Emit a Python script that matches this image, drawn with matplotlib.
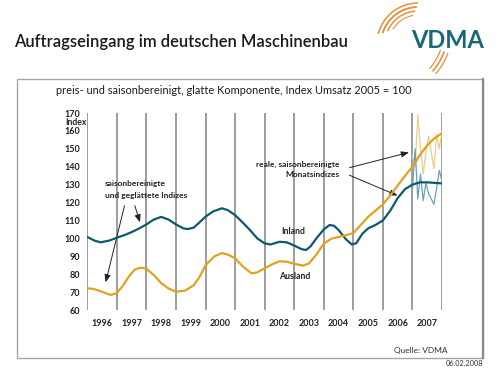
import matplotlib
matplotlib.use("Agg")
import matplotlib.pyplot as plt
from matplotlib.patches import Arc, Rectangle
import numpy as np

plt.rcParams['font.family'] = ['Lato', 'DejaVu Sans']

# ---- data ----
inland_x = [1996.0, 1996.25, 1996.45, 1996.75, 1997.0, 1997.25, 1997.5, 1997.75, 1998.0, 1998.25,
            1998.5, 1998.75, 1999.0, 1999.25, 1999.4, 1999.6, 1999.8, 2000.0, 2000.25, 2000.55,
            2000.75, 2001.0, 2001.25, 2001.5, 2001.75, 2002.0, 2002.2, 2002.5, 2002.75, 2003.0,
            2003.25, 2003.4, 2003.55, 2003.75, 2004.0, 2004.2, 2004.35, 2004.5, 2004.75, 2004.95,
            2005.1, 2005.3, 2005.5, 2005.75, 2006.0, 2006.25, 2006.5, 2006.75, 2007.0, 2007.25,
            2007.5, 2007.75, 2008.0]
inland_v = [100.8, 98.7, 97.8, 98.8, 100.4, 101.8, 103.5, 105.5, 107.8, 110.5,
            112.0, 110.5, 107.8, 105.6, 105.2, 106.0, 109.0, 112.1, 115.0, 116.8,
            115.8, 113.0, 109.0, 104.7, 100.0, 97.2, 96.6, 98.1, 97.8, 96.0,
            94.0, 93.5, 95.5, 100.0, 105.0, 107.5, 107.0, 104.7, 99.5, 96.6,
            97.3, 102.5, 105.6, 107.5, 110.0, 115.5, 122.5, 127.5, 130.0, 131.3,
            131.3, 131.0, 130.7]

ausland_x = [1996.0, 1996.2, 1996.4, 1996.6, 1996.8, 1997.0, 1997.2, 1997.4, 1997.6, 1997.8,
             1998.0, 1998.25, 1998.5, 1998.75, 1999.0, 1999.3, 1999.6, 1999.8, 2000.0, 2000.3,
             2000.55, 2000.75, 2001.0, 2001.25, 2001.55, 2001.75, 2002.0, 2002.25, 2002.5, 2002.75,
             2003.0, 2003.3, 2003.5, 2003.75, 2004.0, 2004.25, 2004.5, 2004.75, 2005.0, 2005.25,
             2005.5, 2005.75, 2006.0, 2006.25, 2006.5, 2006.75, 2007.0, 2007.25, 2007.5, 2007.75,
             2008.0]
ausland_v = [72.1, 71.8, 70.8, 69.5, 68.4, 69.5, 73.5, 78.6, 82.5, 83.7,
             83.0, 79.5, 75.0, 72.0, 70.2, 70.8, 73.8, 78.5, 85.0, 90.0,
             91.8, 91.0, 88.9, 84.5, 80.5, 81.0, 83.3, 85.5, 87.2, 87.0,
             85.8, 84.8, 86.0, 91.0, 97.0, 99.8, 100.8, 101.8, 103.0, 107.5,
             112.0, 115.5, 119.0, 124.0, 129.5, 135.0, 140.0, 146.5, 152.0, 156.0,
             158.7]

months_2007 = ["Jan", "Feb", "Mär", "Apr", "Mai", "Jun", "Jul", "Aug", "Sep", "Okt", "Nov", "Dez"]
inland_monthly = [128, 150, 122, 136, 121, 131, 125, 122, 119, 128, 138, 132]
ausland_monthly = [146, 140, 169, 150, 136, 148, 157, 148, 139, 158, 150, 160]

years = list(range(1996, 2008))
yticks = [60, 70, 80, 90, 100, 110, 120, 130, 140, 150, 160, 170]

# ---- styles ----
TEAL = "#0d5a6a"
ORANGE = "#e3a11f"
TEAL_L = "#6aa2b3"
ORANGE_L = "#e6cf8f"
GRID = "#8c8c8c"
ARC_C = "#e3913a"

W, H = 500, 375
fig = plt.figure(figsize=(W / 100, H / 100), dpi=100)
fig.patch.set_facecolor("white")

# background axes in pixel coordinates (y downwards)
bg = fig.add_axes([0, 0, 1, 1])
bg.set_xlim(0, W)
bg.set_ylim(H, 0)
bg.axis("off")

bg.add_patch(Rectangle((17, 79), 466, 279, fill=False, edgecolor="#a6a6a6", lw=1.0))
bg.plot([483, 483], [79, 358], color="#8a8a8a", lw=1.6)

bg.text(14, 42, "Auftragseingang im deutschen Maschinenbau", fontsize=11.9,
        fontweight="semibold", color="#1a1a1a", ha="left", va="center")
bg.text(56, 91, "preis- und saisonbereinigt, glatte Komponente, Index Umsatz 2005 = 100",
        fontsize=7.9, color="#1a1a1a", ha="left", va="center")
bg.text(448, 350.5, "Quelle: VDMA", fontsize=6.0, color="#333333", ha="right", va="center")
bg.text(483, 364, "06.02.2008", fontsize=5.3, color="#333333", ha="right", va="center")

# logo
bg.text(448, 41, "VDMA", fontsize=17, fontweight="bold", color="#17687b",
        ha="center", va="center")
for r, t1, t2, lw in zip([29, 33, 37, 41], [-150, -157, -163, -166], [-100, -95, -92, -90],
                         [0.8, 1.1, 1.4, 1.1]):
    bg.add_patch(Arc((418, 44), 2 * r, 2 * r, theta1=t1, theta2=t2, color=ARC_C, lw=lw))
for r, lw in zip([59, 63, 67], [0.9, 1.2, 0.9]):
    bg.add_patch(Arc((385, 30), 2 * r, 2 * r, theta1=20, theta2=41, color=ARC_C, lw=lw))

# main axes
ax = fig.add_axes([0.1746, 0.1733, 0.7094, 0.5253])
ax.set_xlim(1996, 2008)
ax.set_ylim(60, 170)
for s in ax.spines.values():
    s.set_visible(False)
ax.set_facecolor("none")

for yr in years + [2008]:
    ax.axvline(yr, color=GRID, lw=1.2, zorder=1)

ax.plot(inland_x, inland_v, color=TEAL, lw=1.6, zorder=4, solid_capstyle="round")
ax.plot(ausland_x, ausland_v, color=ORANGE, lw=1.6, zorder=4, solid_capstyle="round")

mx = np.linspace(2007, 2008, len(months_2007))
ax.plot(mx, ausland_monthly, color=ORANGE_L, lw=0.9, zorder=3)
ax.plot(mx, inland_monthly, color=TEAL_L, lw=0.9, zorder=3)

ax.set_yticks(yticks)
ax.set_yticklabels([str(v) for v in yticks], fontsize=6.5, fontweight="bold", color="#222222")
ax.set_xticks([y + 0.5 for y in years])
ax.set_xticklabels([str(y) for y in years], fontsize=6.5, fontweight="bold", color="#222222")
ax.tick_params(axis="both", length=0)
ax.tick_params(axis="y", pad=5)
ax.tick_params(axis="x", pad=6.5)

ax.text(-0.003, 164.6, "Index", transform=ax.get_yaxis_transform(), fontsize=6.2,
        fontweight="bold", color="#222222", ha="right", va="center")

# annotations
akw = dict(arrowstyle="-|>,head_length=0.45,head_width=0.18", color="#222222", lw=0.7)
ax.text(1996.6, 127.4, "saisonbereinigte\nund geglättete Indizes", fontsize=6,
        fontweight="bold", color="#222222", ha="left", va="center", linespacing=1.75)
ax.annotate("", xy=(1996.6, 74.0), xytext=(1997.28, 119.7), arrowprops=akw)
ax.annotate("", xy=(1997.81, 107.5), xytext=(1997.58, 119.7), arrowprops=akw)

ax.text(2004.54, 138.4, "reale, saisonbereinigte\nMonatsindizes", fontsize=6,
        fontweight="bold", color="#222222", ha="right", va="center", linespacing=1.6)
ax.annotate("", xy=(2006.97, 148.4), xytext=(2004.78, 139.1), arrowprops=akw)
ax.annotate("", xy=(2006.58, 123.3), xytext=(2004.78, 135.9), arrowprops=akw)

ax.text(2002.95, 104.1, "Inland", fontsize=6.3, fontweight="bold", color="#222222",
        ha="center", va="center")
ax.text(2003.03, 78.6, "Ausland", fontsize=6.3, fontweight="bold", color="#222222",
        ha="center", va="center")

fig.savefig("out.png", dpi=100, facecolor="white")
